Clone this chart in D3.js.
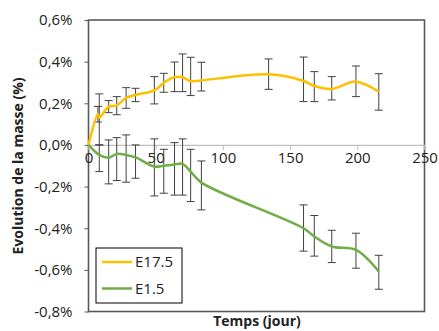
<!DOCTYPE html>
<html>
<head>
<meta charset="utf-8">
<script src="https://cdn.jsdelivr.net/npm/d3@7"></script>
<style>
  body { margin: 0; background: #fff; }
  svg { display: block; font-family: "Open Sans", sans-serif; }
</style>
</head>
<body>
<svg id="chart" width="439" height="331"></svg>
<script>
// E17.5 series
const daysA = [0, 7, 8, 15, 21, 28, 35, 49, 56, 64, 70, 76, 84, 134, 160, 168, 181, 199, 216];
const valA  = [0, 0.150, 0.130, 0.184, 0.190, 0.226, 0.240, 0.262, 0.298, 0.326, 0.325, 0.307, 0.310, 0.339, 0.307, 0.283, 0.269, 0.304, 0.256];
const hiA   = [0, 0.185, 0.245, 0.213, 0.232, 0.275, 0.272, 0.328, 0.344, 0.398, 0.437, 0.421, 0.397, 0.413, 0.422, 0.352, 0.328, 0.379, 0.342];
const loA   = [0, 0.110, 0.000, 0.155, 0.145, 0.176, 0.208, 0.197, 0.253, 0.256, 0.256, 0.237, 0.259, 0.267, 0.208, 0.208, 0.216, 0.232, 0.167];

// E1.5 series
const daysB = [0, 8, 15, 21, 28, 35, 49, 56, 64, 70, 76, 84, 160, 168, 181, 199, 216];
const valB  = [0, -0.048, -0.061, -0.043, -0.048, -0.060, -0.104, -0.100, -0.094, -0.091, -0.128, -0.181, -0.400, -0.440, -0.488, -0.504, -0.608];
const hiB   = [0, 0.000, 0.024, 0.035, 0.048, 0.000, 0.029, -0.021, 0.011, 0.029, -0.021, -0.077, -0.288, -0.339, -0.410, -0.424, -0.530];
const loB   = [0, -0.128, -0.187, -0.171, -0.179, -0.160, -0.245, -0.232, -0.241, -0.241, -0.272, -0.312, -0.510, -0.534, -0.565, -0.592, -0.693];

const xTicks = [0, 50, 100, 150, 200, 250];
const yTicks = [0.6, 0.4, 0.2, 0, -0.2, -0.4, -0.6, -0.8];

const series = [
  { name: "E17.5", color: "#FFC000", days: daysA, val: valA, hi: hiA, lo: loA },
  { name: "E1.5", color: "#70AD47", days: daysB, val: valB, hi: hiB, lo: loB }
];

const svg = d3.select("#chart");
const x = d3.scaleLinear().domain([0, 250]).range([88.5, 424.5]);
const y = d3.scaleLinear().domain([-0.8, 0.6]).range([311.5, 20]);

const fmt = v => (v === 0 ? "0,0%" : d3.format(".1f")(v).replace("−", "-").replace(".", ",") + "%");

// plot frame
svg.append("rect")
  .attr("x", x(0)).attr("y", y(0.6))
  .attr("width", x(250) - x(0)).attr("height", y(-0.8) - y(0.6))
  .attr("fill", "none").attr("stroke", "#595959").attr("stroke-width", 1.6);

// y axis ticks + labels
svg.append("g")
  .attr("transform", `translate(${x(0)},0)`)
  .call(d3.axisLeft(y).tickValues(yTicks).tickSize(4).tickPadding(12).tickFormat(fmt))
  .call(g => g.select(".domain").remove())
  .call(g => g.selectAll("line").attr("stroke", "#595959"))
  .call(g => g.selectAll("text").attr("font-size", 15).attr("fill", "#222").attr("font-family", "Open Sans"));

// zero line acting as x axis
svg.append("g")
  .attr("transform", `translate(0,${y(0)})`)
  .call(d3.axisBottom(x).tickValues(xTicks).tickSize(5).tickPadding(2).tickFormat(d3.format("d")))
  .call(g => g.select(".domain").attr("stroke", "#bfbfbf").attr("stroke-width", 1.2))
  .call(g => g.selectAll("line").attr("stroke", "#bfbfbf"))
  .call(g => g.selectAll("text").attr("font-size", 15).attr("fill", "#222").attr("font-family", "Open Sans"));

// series: error bars then lines
series.forEach(s => {
  const g = svg.append("g");
  const pts = s.days.map((d, i) => ({ d, v: s.val[i], hi: s.hi[i], lo: s.lo[i] })).filter(p => p.d > 0);
  g.selectAll("line.bar").data(pts).join("line")
    .attr("x1", p => x(p.d)).attr("x2", p => x(p.d))
    .attr("y1", p => y(p.hi)).attr("y2", p => y(p.lo))
    .attr("stroke", "#404040").attr("stroke-width", 1);
  ["hi", "lo"].forEach(k => {
    g.selectAll("line.cap-" + k).data(pts).join("line")
      .attr("x1", p => x(p.d) - 4).attr("x2", p => x(p.d) + 4)
      .attr("y1", p => y(p[k])).attr("y2", p => y(p[k]))
      .attr("stroke", "#404040").attr("stroke-width", 1);
  });
});

series.forEach(s => {
  const line = d3.line()
    .x((d, i) => x(s.days[i]))
    .y(d => y(d))
    .curve(d3.curveCatmullRom.alpha(0.5));
  svg.append("path")
    .datum(s.val)
    .attr("d", line)
    .attr("fill", "none")
    .attr("stroke", s.color)
    .attr("stroke-width", 2.5);
});

// legend
const lg = svg.append("g").attr("transform", "translate(96,248)");
lg.append("rect").attr("width", 86).attr("height", 55)
  .attr("fill", "#fff").attr("stroke", "#000").attr("stroke-width", 1);
series.forEach((s, i) => {
  const yy = 14 + i * 26.5;
  lg.append("line").attr("x1", 6).attr("x2", 36).attr("y1", yy).attr("y2", yy)
    .attr("stroke", s.color).attr("stroke-width", 2.5);
  lg.append("text").attr("x", 39).attr("y", yy).attr("dy", "0.35em")
    .attr("font-size", 15).attr("fill", "#222").text(s.name);
});

// axis titles
svg.append("text")
  .attr("transform", `translate(18,166) rotate(-90)`)
  .attr("text-anchor", "middle").attr("dy", "0.35em")
  .attr("font-size", 14).attr("font-weight", "bold").attr("fill", "#222")
  .text("Evolution de la masse (%)");

svg.append("text")
  .attr("x", 257).attr("y", 326)
  .attr("text-anchor", "middle")
  .attr("font-size", 14).attr("font-weight", "bold").attr("fill", "#222")
  .text("Temps (jour)");
</script>
</body>
</html>
